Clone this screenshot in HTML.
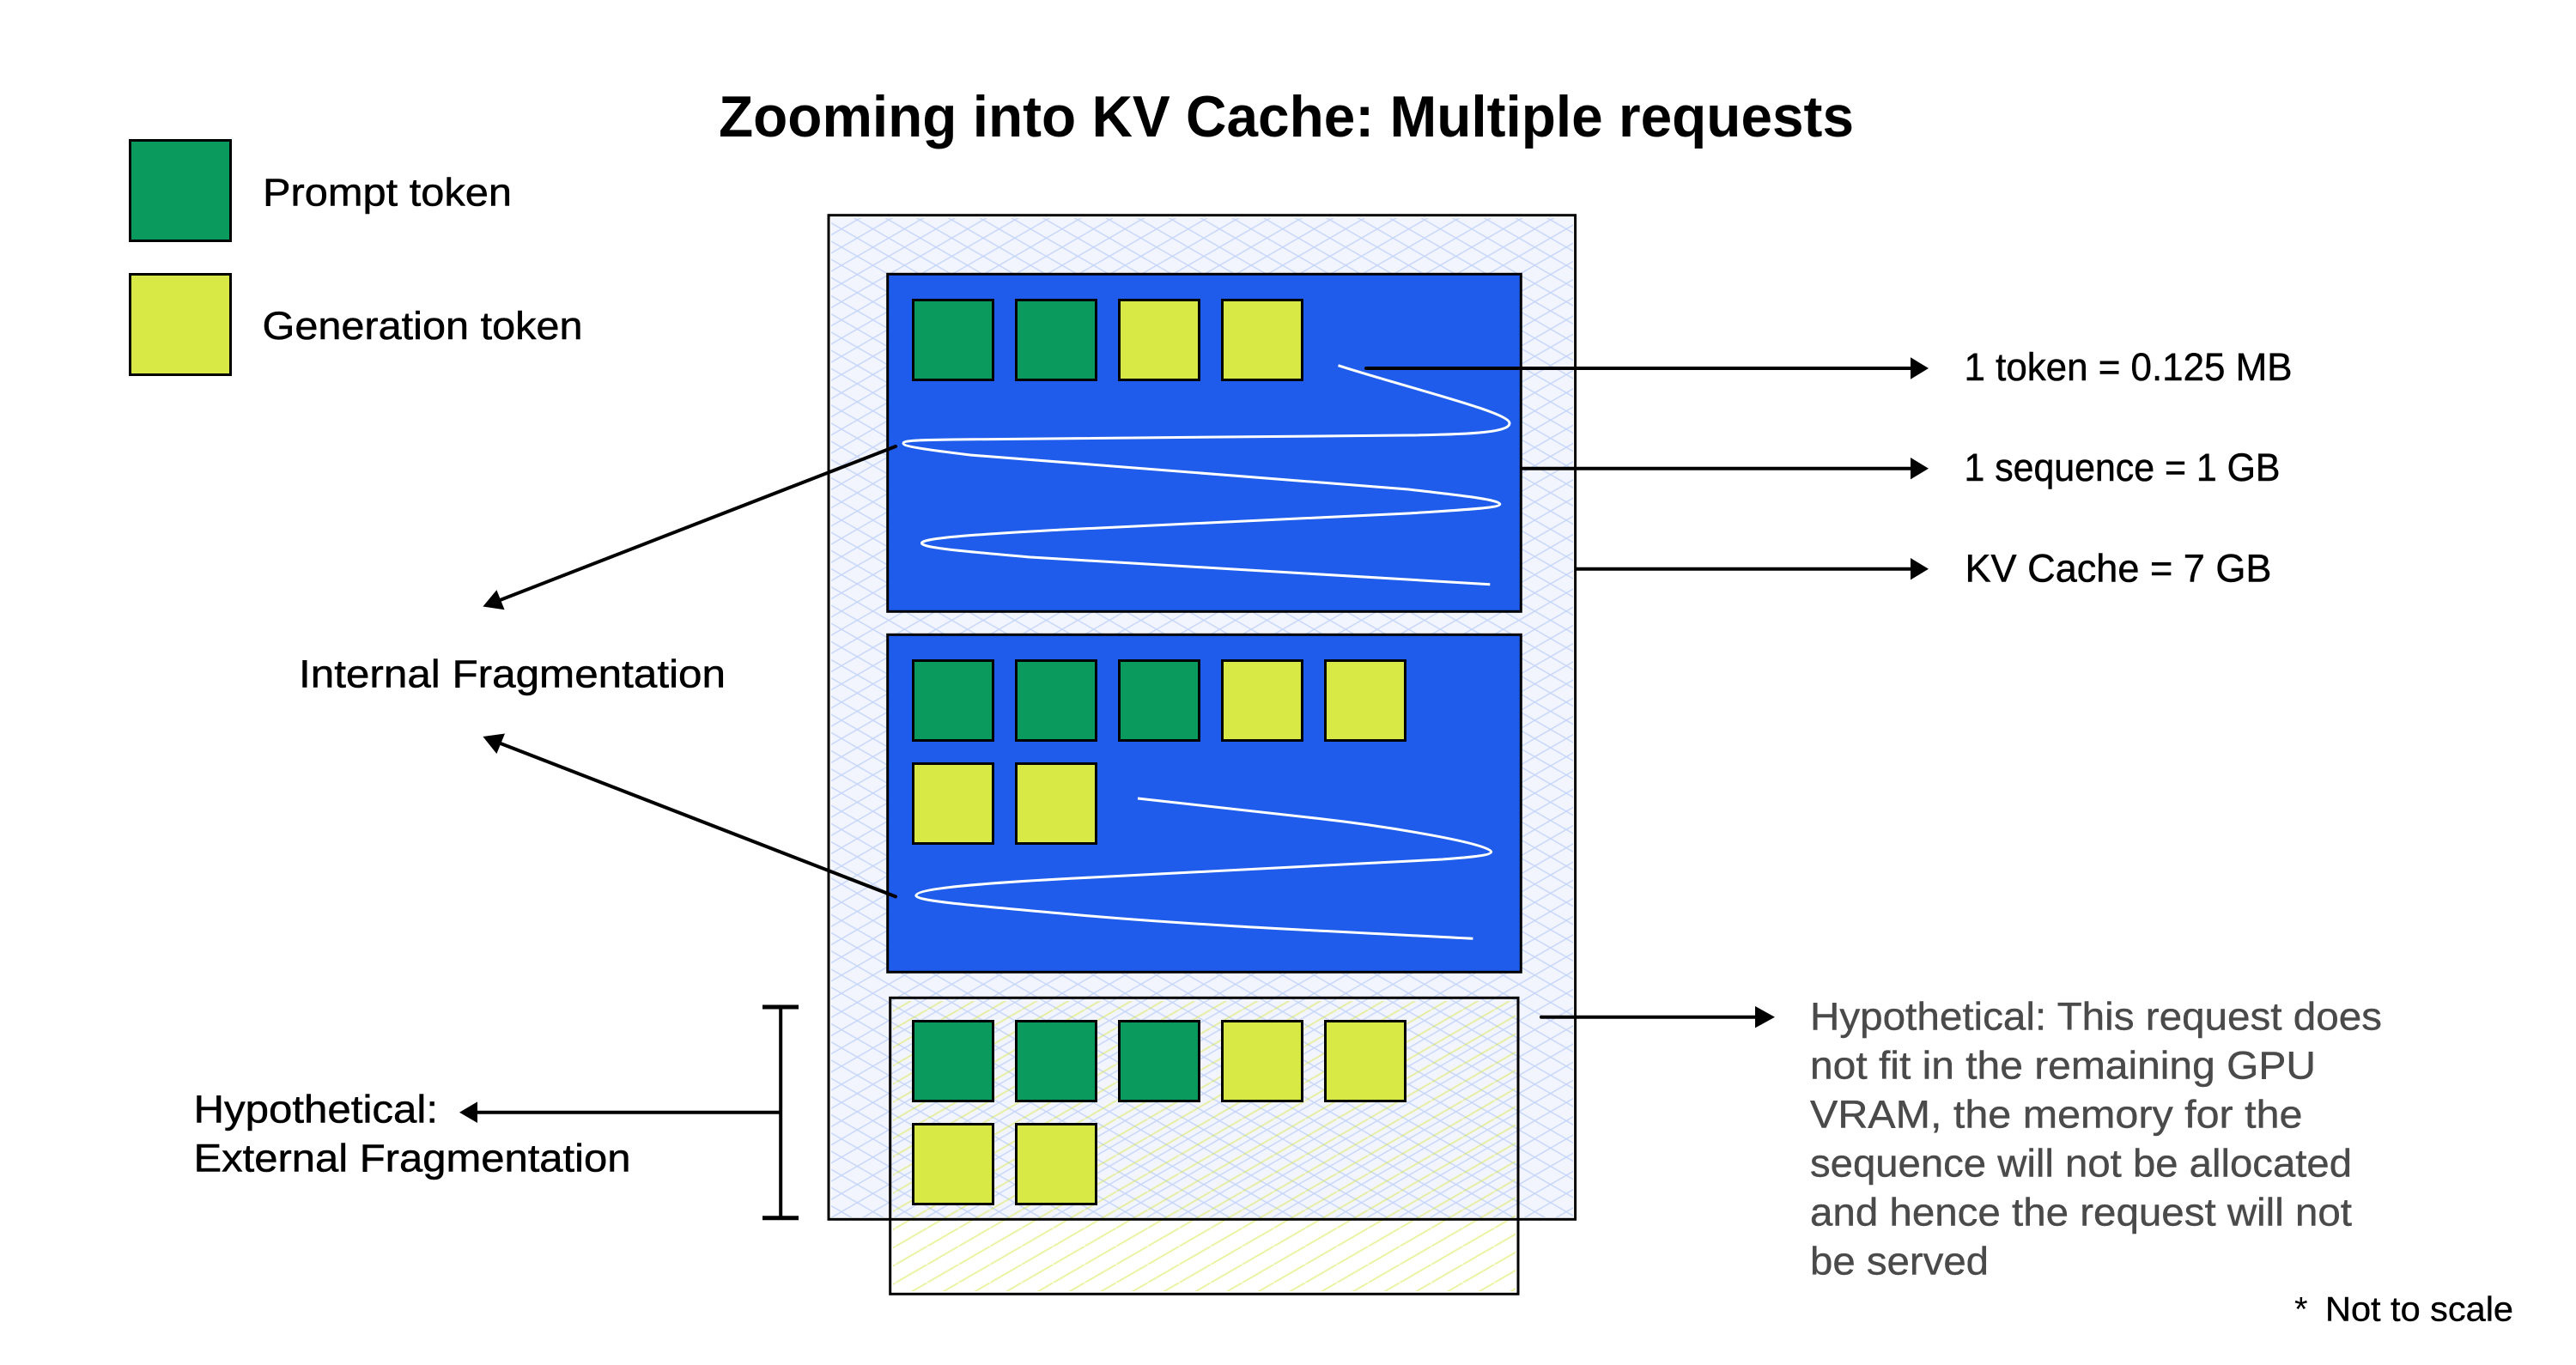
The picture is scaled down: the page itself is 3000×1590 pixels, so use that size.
<!DOCTYPE html>
<html lang="en">
<head>
<meta charset="utf-8">
<title>Zooming into KV Cache: Multiple requests</title>
<style>
html,body{margin:0;padding:0;background:#fff;width:3000px;height:1590px;overflow:hidden}
svg{display:block}
text{font-family:"Liberation Sans",sans-serif}
</style>
</head>
<body>
<svg xmlns="http://www.w3.org/2000/svg" width="3000" height="1590" viewBox="0 0 3000 1590">
<defs>
<pattern id="b" patternUnits="userSpaceOnUse" width="36.7" height="21.2" patternTransform="translate(1016.7 266.7)">
<path d="M-36.7 42.4L73.4 -21.2M-36.7 -21.2L73.4 42.4" stroke="#c6d6f9" stroke-width="1.4" fill="none"/>
</pattern>
<pattern id="y" patternUnits="userSpaceOnUse" width="36.7" height="21.2" patternTransform="translate(1300 1430.5)">
<path d="M-36.7 42.4L73.4 -21.2" stroke="#d8e845" stroke-opacity=".5" stroke-width="2" fill="none"/>
</pattern>
</defs>
<rect width="3000" height="1590" fill="#fff"/>

<!-- outer cache -->
<rect x="968" y="254" width="864" height="1164" fill="#f3f5fe"/>
<rect x="968" y="254" width="864" height="1164" fill="url(#b)"/>
<!-- hypothetical request hatch -->
<rect x="1040" y="1166" width="725" height="338" fill="url(#y)"/>
<rect x="965" y="250.7" width="869.6" height="1169.6" fill="none" stroke="#000" stroke-width="3"/>
<rect x="1036.7" y="1162.3" width="731.3" height="345" fill="none" stroke="#000" stroke-width="3"/>

<!-- blue sequences -->
<rect x="1033.7" y="319.3" width="737.6" height="393" fill="#1f5ceb" stroke="#000" stroke-width="3"/>
<rect x="1033.7" y="739.3" width="737.6" height="393" fill="#1f5ceb" stroke="#000" stroke-width="3"/>

<!-- tokens -->
<g stroke="#000" stroke-width="3">
<g fill="#0b9a5e">
<rect x="151.5" y="163.5" width="117" height="117"/>
<rect x="1063.5" y="349.5" width="93" height="93"/>
<rect x="1183.5" y="349.5" width="93" height="93"/>
<rect x="1063.5" y="769.5" width="93" height="93"/>
<rect x="1183.5" y="769.5" width="93" height="93"/>
<rect x="1303.5" y="769.5" width="93" height="93"/>
<rect x="1063.5" y="1189.5" width="93" height="93"/>
<rect x="1183.5" y="1189.5" width="93" height="93"/>
<rect x="1303.5" y="1189.5" width="93" height="93"/>
</g>
<g fill="#d8e845">
<rect x="151.5" y="319.5" width="117" height="117"/>
<rect x="1303.5" y="349.5" width="93" height="93"/>
<rect x="1423.5" y="349.5" width="93" height="93"/>
<rect x="1423.5" y="769.5" width="93" height="93"/>
<rect x="1543.5" y="769.5" width="93" height="93"/>
<rect x="1063.5" y="889.5" width="93" height="93"/>
<rect x="1183.5" y="889.5" width="93" height="93"/>
<rect x="1423.5" y="1189.5" width="93" height="93"/>
<rect x="1543.5" y="1189.5" width="93" height="93"/>
<rect x="1063.5" y="1309.5" width="93" height="93"/>
<rect x="1183.5" y="1309.5" width="93" height="93"/>
</g>
</g>

<!-- white fragmentation curves -->
<g fill="none" stroke="#fff" stroke-width="3">
<path d="M1558.5 425.7C1640 452 1758 480 1758 493C1758 503 1720 506 1640 507L1110 512C1070 512.5 1052 513 1052 516.5C1052 520 1080 524 1130 530L1640 570C1700 577 1746.8 582 1746.8 587.3C1746.8 592 1700 594 1640 598L1237 617C1150 622 1073.4 626 1073.4 632.7C1073.4 638 1120 642 1200 649L1735.3 680.7"/>
<path d="M1325 930L1534 953.3C1620 963 1736.7 983 1736.7 992.3C1736.7 997 1700 999.5 1680 1001L1247 1023.3C1160 1028 1066.8 1034 1066.8 1043.3C1066.8 1050 1150 1056 1247 1065C1400 1079 1600 1087 1715.4 1093.3"/>
</g>

<!-- connectors -->
<g stroke="#000" stroke-width="4" fill="none" stroke-linecap="round">
<path d="M1591 429H2228"/>
<path d="M1771 545.7H2228" stroke-linecap="butt"/>
<path d="M1835 662.7H2228" stroke-linecap="butt"/>
<path d="M1795 1184.7H2048"/>
<path d="M1043 520L583 698.7"/>
<path d="M1043 1044.4L583 866"/>
<path d="M909 1295.7H553" stroke-linecap="butt"/>
<path d="M909.2 1173V1418.7" stroke-linecap="butt"/>
<path d="M888 1173H930M888 1418.7H930" stroke-width="5" stroke-linecap="butt"/>
</g>
<g fill="#000">
<path d="M2246 429L2225 416.3V441.7Z"/>
<path d="M2246 545.7L2225 533V558.4Z"/>
<path d="M2246 662.7L2225 650V675.4Z"/>
<path d="M2067 1184.7L2044 1172V1197.4Z"/>
<path d="M535 1295.7L556 1283.4V1308Z"/>
<path d="M562.4 706.5L578.4 687.3L587.6 710.2Z"/>
<path d="M562.4 858L588 854.5L578.4 878Z"/>
</g>

<!-- text -->
<text x="837" y="159" font-size="68" font-weight="700" fill="#000" textLength="1322" lengthAdjust="spacingAndGlyphs">Zooming into KV Cache: Multiple requests</text>
<g font-size="45" fill="#000" stroke="#000" stroke-width=".5">
<text x="306" y="239.3" textLength="290" lengthAdjust="spacingAndGlyphs">Prompt token</text>
<text x="305.5" y="395" textLength="373" lengthAdjust="spacingAndGlyphs">Generation token</text>
<text x="2287.5" y="443" textLength="382" lengthAdjust="spacingAndGlyphs">1 token = 0.125 MB</text>
<text x="2287.5" y="560" textLength="368" lengthAdjust="spacingAndGlyphs">1 sequence = 1 GB</text>
<text x="2288.5" y="677.7" textLength="357" lengthAdjust="spacingAndGlyphs">KV Cache = 7 GB</text>
<text x="348" y="800.4" textLength="497" lengthAdjust="spacingAndGlyphs">Internal Fragmentation</text>
<text x="225.5" y="1307.3" textLength="284.5" lengthAdjust="spacingAndGlyphs">Hypothetical:</text>
<text x="225.5" y="1364.3" textLength="509" lengthAdjust="spacingAndGlyphs">External Fragmentation</text>
</g>
<g font-size="45" fill="#4a4a4a" stroke="#4a4a4a" stroke-width=".4">
<text x="2108" y="1199.3" textLength="666" lengthAdjust="spacingAndGlyphs">Hypothetical: This request does</text>
<text x="2108" y="1256.3" textLength="589" lengthAdjust="spacingAndGlyphs">not fit in the remaining GPU</text>
<text x="2108" y="1313.3" textLength="573.5" lengthAdjust="spacingAndGlyphs">VRAM, the memory for the</text>
<text x="2108" y="1370.3" textLength="631" lengthAdjust="spacingAndGlyphs">sequence will not be allocated</text>
<text x="2108" y="1427.3" textLength="631" lengthAdjust="spacingAndGlyphs">and hence the request will not</text>
<text x="2108" y="1484.3" textLength="208" lengthAdjust="spacingAndGlyphs">be served</text>
</g>
<text x="2672" y="1538.3" font-size="40" fill="#000">*</text>
<text x="2708" y="1538.3" font-size="40" fill="#000" stroke="#000" stroke-width=".4" textLength="219" lengthAdjust="spacingAndGlyphs">Not to scale</text>
</svg>
</body>
</html>
